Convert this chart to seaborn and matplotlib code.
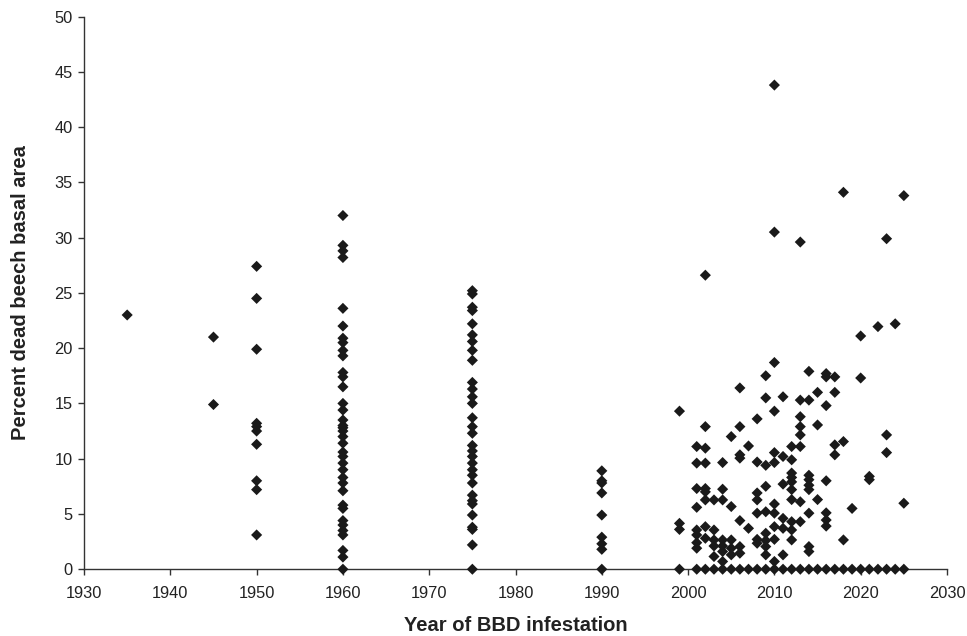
import matplotlib
matplotlib.use("Agg")
import matplotlib.pyplot as plt
import seaborn as sns
import pandas as pd

# Percent dead beech basal area, grouped by year of BBD infestation
y1935 = [23.0]
y1945 = [21.0, 14.9]
y1950 = [27.4, 24.5, 19.9, 13.2, 12.9, 12.5, 11.3, 8.0, 7.2, 3.1]
y1960 = [32.0, 29.3, 28.8, 28.2, 23.6, 22.0, 20.9, 20.5, 19.8, 19.3, 17.8, 17.4,
         16.5, 15.0, 14.4, 13.5, 13.0, 12.8, 12.5, 12.0, 11.4, 10.6, 10.2, 9.6,
         9.0, 8.3, 7.8, 7.1, 5.8, 5.5, 4.4, 4.0, 3.5, 3.1, 1.7, 1.1, 0.0]
y1975 = [25.2, 24.9, 23.7, 23.4, 22.2, 21.2, 20.6, 19.8, 18.9, 16.9, 16.3, 15.6,
         15.0, 13.7, 12.9, 12.3, 11.2, 10.7, 10.2, 9.6, 9.0, 8.5, 7.8, 6.7, 6.2,
         5.9, 4.9, 3.8, 3.6, 2.2, 0.0]
y1990 = [8.9, 8.0, 7.8, 6.9, 4.9, 2.9, 2.3, 1.8, 0.0]
y1999 = [14.3, 4.15, 3.6, 0.0]
y2001 = [11.1, 9.6, 7.3, 5.6, 3.55, 3.1, 2.4, 1.9, 0.0]
y2002 = [26.6, 12.9, 10.95, 9.6, 7.3, 7.0, 6.27, 3.85, 2.8, 0.0]
y2003 = [6.27, 3.55, 2.65, 2.1, 1.15, 0.0]
y2004 = [9.65, 7.24, 6.27, 2.65, 2.1, 1.6, 0.7, 0.0]
y2005 = [12.0, 5.67, 2.65, 1.9, 1.3, 0.0]
y2006 = [16.4, 12.9, 10.35, 10.05, 4.4, 2.05, 1.45, 0.0]
y2007 = [11.15, 3.7, 0.0]
y2008 = [13.6, 9.7, 6.9, 6.27, 5.07, 2.7, 2.35, 0.0]
y2009 = [17.5, 15.5, 9.4, 7.5, 5.2, 3.25, 2.6, 2.05, 1.3, 0.0]
y2010 = [43.8, 30.5, 18.7, 14.3, 10.55, 9.65, 5.9, 5.07, 3.85, 2.7, 0.7, 0.0]
y2011 = [15.6, 10.2, 7.7, 4.6, 3.7, 1.3, 0.0]
y2012 = [11.1, 9.9, 8.7, 8.3, 7.9, 7.2, 6.3, 4.3, 3.55, 2.65, 0.0]
y2013 = [29.6, 15.3, 13.8, 12.9, 12.15, 11.1, 6.1, 4.3, 0.0]
y2014 = [17.9, 15.3, 8.5, 8.1, 7.6, 7.2, 5.07, 2.05, 1.6, 0.0]
y2015 = [16.0, 13.05, 6.3, 0.0]
y2016 = [17.7, 17.4, 14.8, 8.0, 5.1, 4.45, 3.9, 0.0]
y2017 = [17.4, 16.0, 11.25, 10.35, 0.0]
y2018 = [34.1, 11.55, 2.65, 0.0]
y2019 = [5.5, 0.0]
y2020 = [21.1, 17.3, 0.0]
y2021 = [8.4, 8.1, 0.0]
y2022 = [21.95, 0.0]
y2023 = [29.9, 12.15, 10.55, 0.0]
y2024 = [22.2, 0.0]
y2025 = [33.8, 5.97, 0.0]

groups = {
    1935: y1935, 1945: y1945, 1950: y1950, 1960: y1960, 1975: y1975,
    1990: y1990, 1999: y1999, 2001: y2001, 2002: y2002, 2003: y2003,
    2004: y2004, 2005: y2005, 2006: y2006, 2007: y2007, 2008: y2008,
    2009: y2009, 2010: y2010, 2011: y2011, 2012: y2012, 2013: y2013,
    2014: y2014, 2015: y2015, 2016: y2016, 2017: y2017, 2018: y2018,
    2019: y2019, 2020: y2020, 2021: y2021, 2022: y2022, 2023: y2023,
    2024: y2024, 2025: y2025,
}

xticks = list(range(1930, 2031, 10))
yticks = list(range(0, 51, 5))

rows = [(yr, v) for yr, vals in groups.items() for v in vals]
df = pd.DataFrame(rows, columns=["year", "pct"])

sns.set_theme(style="ticks")
plt.rcParams['font.family'] = ['Liberation Sans', 'DejaVu Sans']

fig = plt.figure(figsize=(9.67, 6.36), dpi=100)
ax = fig.add_axes([0.0869, 0.105, 0.8924, 0.869])

sns.scatterplot(data=df, x="year", y="pct", marker="D", s=32, color="#1a1a1a",
                edgecolor="none", linewidth=0, ax=ax, zorder=3, clip_on=False)

ax.set_xlim(1930, 2030)
ax.set_ylim(0, 50)
ax.set_xticks(xticks)
ax.set_yticks(yticks)
ax.tick_params(axis="both", direction="out", length=4, width=1, color="#333333",
               labelsize=11.8, labelcolor="#222222")
ax.tick_params(axis="x", pad=8)
ax.tick_params(axis="y", pad=4)
for side in ["top", "right"]:
    ax.spines[side].set_visible(False)
for side in ["left", "bottom"]:
    ax.spines[side].set_color("#333333")
    ax.spines[side].set_linewidth(1.0)

ax.set_xlabel("Year of BBD infestation", fontsize=14.5, fontweight="bold",
              color="#222222", labelpad=11)
ax.set_ylabel("Percent dead beech basal area", fontsize=14.5, fontweight="bold",
              color="#222222", labelpad=18)

fig.savefig("out.png", dpi=100)
